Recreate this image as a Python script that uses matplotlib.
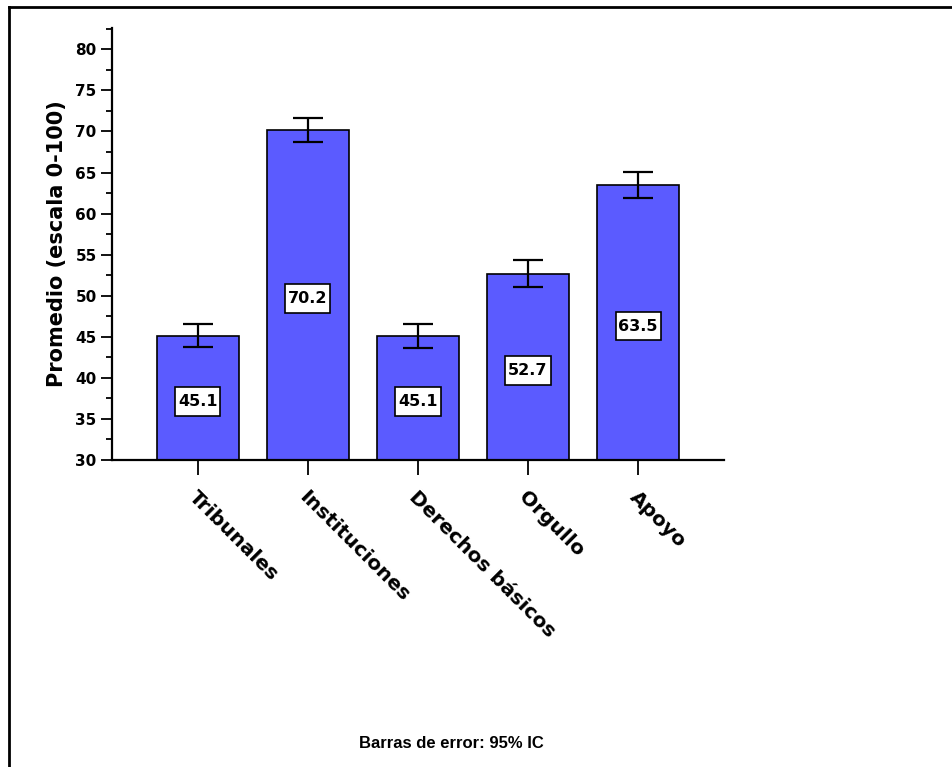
import numpy as np
import matplotlib
matplotlib.use("Agg")
import matplotlib.pyplot as plt
from matplotlib.lines import Line2D
from matplotlib.patches import Rectangle
from matplotlib.transforms import ScaledTranslation

# --- Data ---
categories = ["Tribunales", "Instituciones", "Derechos básicos", "Orgullo", "Apoyo"]
means = [45.1, 70.2, 45.1, 52.7, 63.5]
ci_half = [1.4, 1.5, 1.45, 1.6, 1.55]

BAR_COLOR = "#5b5bff"
HEAVY = ["DejaVu Sans"]

fig = plt.figure(figsize=(9.52, 7.67), dpi=100)
ax = fig.add_axes([0.1176, 0.4003, 0.6429, 0.5632])

x = np.arange(len(categories))
ax.bar(x, [m - 30 for m in means], bottom=30, width=0.745, color=BAR_COLOR,
       edgecolor="black", linewidth=1.2, zorder=2)
ax.errorbar(x, means, yerr=ci_half, fmt="none", ecolor="black",
            elinewidth=1.6, capsize=10.5, capthick=1.6, zorder=3)

# value boxes inside bars (box ~45x29 px)
box_w = 0.41
box_h = 3.5
for xi, m in zip(x, means):
    yc = (m + 30) / 2 - 0.45
    ax.add_patch(Rectangle((xi - box_w / 2, yc - box_h / 2), box_w, box_h,
                           facecolor="white", edgecolor="black", lw=1.2, zorder=4))
    ax.text(xi, yc, f"{m:.1f}", ha="center", va="center",
            fontsize=11.5, fontweight="bold", family=HEAVY, zorder=5)

ax.set_xlim(-0.78, 4.78)
ax.set_ylim(30, 82.6)
ax.set_yticks(np.arange(30, 81, 5))
ax.set_yticks(np.arange(32.5, 82.6, 5), minor=True)

for s in ["top", "right"]:
    ax.spines[s].set_visible(False)
for s in ["left", "bottom"]:
    ax.spines[s].set_linewidth(1.6)

ax.tick_params(axis="y", which="major", length=8, width=1.3, pad=3)
ax.tick_params(axis="y", which="minor", length=4.3, width=1.3)
ax.tick_params(axis="x", which="major", length=10.8, width=1.3)
for lab in ax.get_yticklabels():
    lab.set_fontsize(11)
    lab.set_fontweight("bold")
    lab.set_family(HEAVY)

ax.set_xticks(x)
ax.set_xticklabels(categories, rotation=-45, ha="left", va="center",
                   rotation_mode="anchor", fontsize=14.5, fontweight="bold",
                   family=HEAVY)
for lab in ax.get_xticklabels():
    lab.set_transform(lab.get_transform() + ScaledTranslation(-6 / 100, -14 / 100, fig.dpi_scale_trans))

ax.set_ylabel("Promedio (escala 0-100)", fontsize=15, fontweight="bold",
              family=HEAVY, labelpad=6)

fig.text(0.474, 0.031, "Barras de error: 95% IC", ha="center", va="center",
         fontsize=12, fontweight="bold", family=["Liberation Sans", "DejaVu Sans"])

# outer frame (left and top only visible)
fig.add_artist(Line2D([9 / 952, 9 / 952], [0, 1 - 7 / 767], color="black",
                      lw=2, transform=fig.transFigure))
fig.add_artist(Line2D([9 / 952, 1], [1 - 7 / 767, 1 - 7 / 767], color="black",
                      lw=2, transform=fig.transFigure))

fig.savefig("out.png", dpi=100)
